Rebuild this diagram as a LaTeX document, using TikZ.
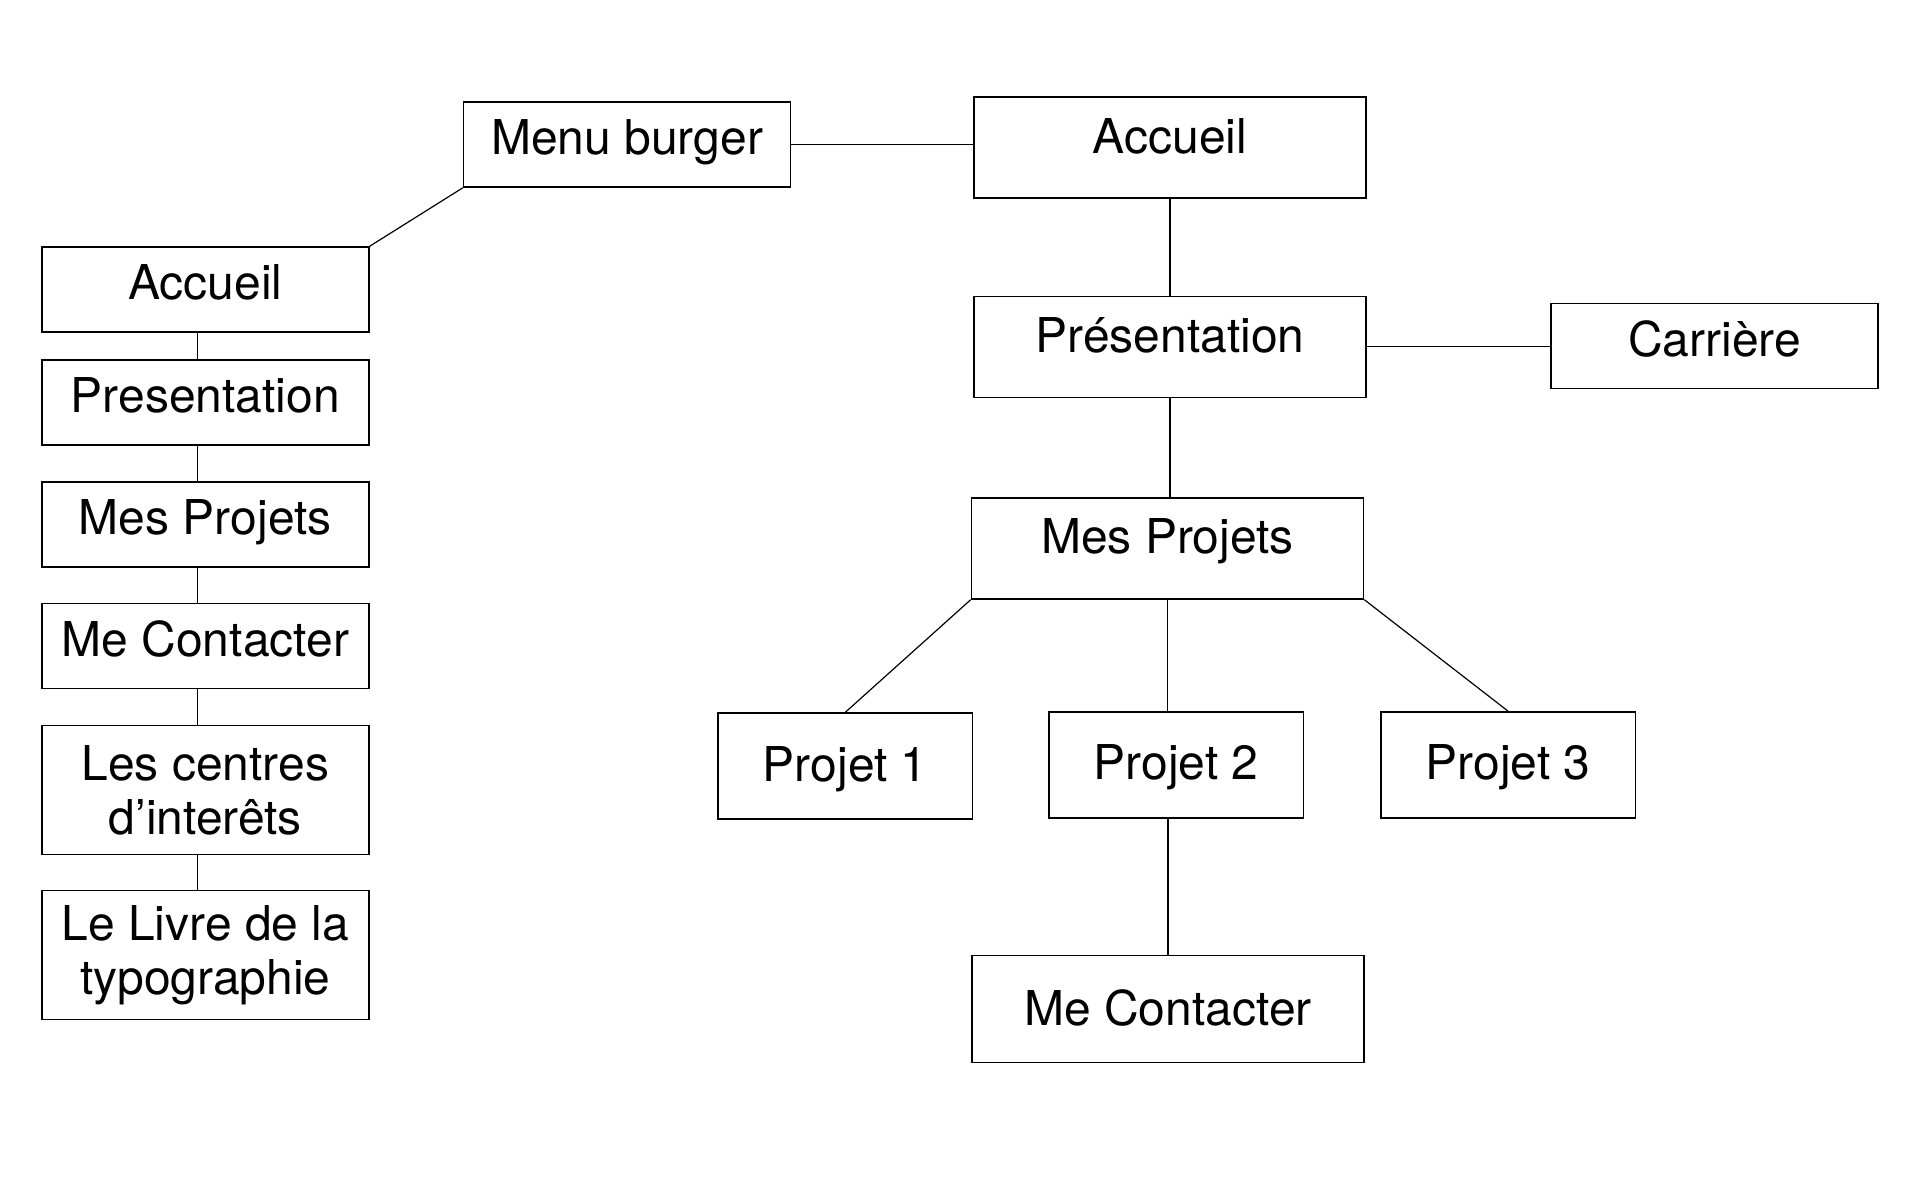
\documentclass[tikz,border=0pt]{standalone}
\usepackage{fontspec}
\setmainfont{TeX Gyre Heros}

\begin{document}
\begin{tikzpicture}[x=0.5pt, y=-0.5pt,
  box/.style={draw, line width=0.8pt, inner sep=0pt, font=\fontsize{24}{27}\selectfont},
  smallbox/.style={box, minimum width=163.5pt, text height=26.25pt, text depth=16.25pt},
  bigbox/.style={box, minimum width=196pt, text height=28pt, text depth=22.5pt},
  projbox/.style={box, minimum width=127.3pt, text height=34pt, text depth=18.9pt},
  tallbox/.style={box, minimum width=163.5pt, minimum height=64.5pt, align=center},
  link/.style={line width=0.6pt}]
\useasboundingbox (0,0) rectangle (1928,1195);

%menu burger column
\node[smallbox] (burger) at (627.1,144.5) {Menu burger};
\node[smallbox] (accL) at (205.3,289.6) {Accueil};
\node[smallbox] (presL) at (205.3,402.7) {Presentation};
\node[smallbox] (mesL) at (205.3,524.4) {Mes Projets};
\node[smallbox] (contL) at (205.3,646) {Me Contacter};
\node[tallbox] (centres) at (205.3,790) {Les centres\\d’interêts};
\node[tallbox] (livre) at (205.3,954.8) {Le Livre de la\\typographie};

%site tree
\node[bigbox] (accR) at (1170,147.5) {Accueil};
\node[bigbox] (presR) at (1170,346.8) {Présentation};
\node[smallbox] (carriere) at (1714.6,346.1) {Carrière};
\node[bigbox] (mesR) at (1167.5,548.4) {Mes Projets};
\node[projbox] (proj1) at (845.3,766) {Projet 1};
\node[projbox] (proj2) at (1176,764.8) {Projet 2};
\node[projbox] (proj3) at (1508,764.8) {Projet 3};
\node[bigbox, text height=34.8pt, text depth=18.7pt] (contR) at (1168,1009) {Me Contacter};

%links
\draw[link] (burger.east) -- (burger.east -| accR.west);
\draw[link] (burger.south west) -- (accL.north east);
\foreach \a/\b in {accL/presL, presL/mesL, mesL/contL, contL/centres, centres/livre}
  \draw[link] ([xshift=-4pt]\a.south) -- ([xshift=-4pt]\b.north);

\draw[link] (accR) -- (presR);
\draw[link] (presR.east) -- (presR.east -| carriere.west);
\draw[link] (presR.south) -- (presR.south |- mesR.north);
\draw[link] (mesR.south west) -- (proj1.north);
\draw[link] (mesR.south) -- (mesR.south |- proj2.north);
\draw[link] (mesR.south east) -- (proj3.north);
\draw[link] (proj2.south -| contR.north) -- (contR.north);

\end{tikzpicture}
\end{document}
